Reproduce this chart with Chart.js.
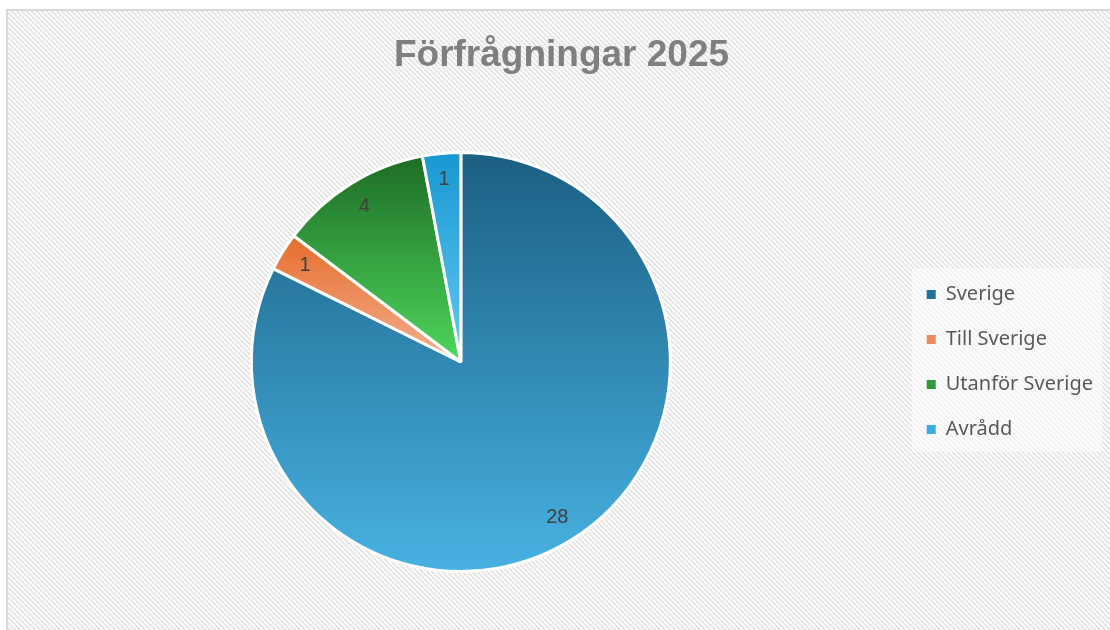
<!DOCTYPE html>
<html>
<head>
<meta charset="utf-8">
<script src="https://cdn.jsdelivr.net/npm/chart.js@4.4.1/dist/chart.umd.min.js"></script>
<style>
  html, body { margin: 0; padding: 0; background: #ffffff; }
  #wrap { width: 1110px; height: 630px; position: relative; }
  canvas { display: block; }
</style>
</head>
<body>
<div id="wrap"><canvas id="c" width="1110" height="630"></canvas></div>
<script>
// ---- data ----
const chartTitle = 'Förfrågningar 2025';
const categories = ['Sverige', 'Till Sverige', 'Utanför Sverige', 'Avrådd'];
const values = [28, 1, 4, 1];
const gradientTops = ['#1b5f82', '#e66c2c', '#1d6b25', '#1797d1'];
const gradientBottoms = ['#48b2e3', '#f4b08f', '#4ed75c', '#62c9f2'];
const legendColors = ['#22729c', '#ec8a5c', '#2f9a3a', '#3aaee2'];

// ---- hatch pattern ----
function makePattern() {
  const t = document.createElement('canvas');
  t.width = 5; t.height = 5;
  const g = t.getContext('2d');
  const img = g.createImageData(5, 5);
  for (let y = 0; y < 5; y++) {
    for (let x = 0; x < 5; x++) {
      const k = ((x - y) % 5 + 5) % 5;
      const v = (k === 0 || k === 1) ? 226 : 250;
      const i = (y * 5 + x) * 4;
      img.data[i] = v; img.data[i + 1] = v; img.data[i + 2] = v; img.data[i + 3] = 255;
    }
  }
  g.putImageData(img, 0, 0);
  return t;
}
const patternTile = makePattern();

const backgroundPlugin = {
  id: 'bgHatch',
  beforeDraw(chart) {
    const ctx = chart.ctx;
    ctx.save();
    ctx.fillStyle = '#ffffff';
    ctx.fillRect(0, 0, chart.width, chart.height);
    ctx.fillStyle = ctx.createPattern(patternTile, 'repeat');
    ctx.fillRect(8, 11, chart.width - 8, chart.height - 11);
    ctx.strokeStyle = '#d9d9d9';
    ctx.lineWidth = 2;
    ctx.beginPath();
    ctx.moveTo(7, chart.height + 5);
    ctx.lineTo(7, 10);
    ctx.lineTo(chart.width + 5, 10);
    ctx.stroke();
    // lighter legend backdrop
    ctx.fillStyle = 'rgba(255,255,255,0.5)';
    ctx.fillRect(912, 268, 190, 184);
    ctx.restore();
  }
};

function sectorYRange(chart, index) {
  const area = chart.chartArea;
  const cy = (area.top + area.bottom) / 2;
  const r = Math.min(area.width, area.height) / 2;
  const total = values.reduce((a, b) => a + b, 0);
  let start = 0;
  for (let i = 0; i < index; i++) start += values[i];
  const a0 = -Math.PI / 2 + start / total * 2 * Math.PI;
  const a1 = a0 + values[index] / total * 2 * Math.PI;
  let ys = [cy, cy + r * Math.sin(a0), cy + r * Math.sin(a1)];
  for (let k = -2; k <= 4; k++) {
    const a = Math.PI / 2 + k * Math.PI;
    if (a > a0 && a < a1) ys.push(cy + r * Math.sin(a));
  }
  return [Math.min(...ys), Math.max(...ys)];
}

const labelPlugin = {
  id: 'sliceLabels',
  afterDatasetsDraw(chart) {
    const ctx = chart.ctx;
    const meta = chart.getDatasetMeta(0);
    ctx.save();
    ctx.font = '20px "Liberation Sans", Arial, sans-serif';
    ctx.fillStyle = '#404040';
    ctx.textAlign = 'center';
    ctx.textBaseline = 'middle';
    meta.data.forEach((arc, i) => {
      const p = arc.getProps(['x', 'y', 'startAngle', 'endAngle', 'outerRadius'], true);
      const mid = (p.startAngle + p.endAngle) / 2;
      const d = p.outerRadius * 0.875;
      ctx.fillText(String(values[i]), p.x + Math.cos(mid) * d, p.y + Math.sin(mid) * d);
    });
    ctx.restore();
  }
};

new Chart(document.getElementById('c'), {
  type: 'pie',
  data: {
    labels: categories,
    datasets: [{
      data: values,
      backgroundColor(context) {
        const chart = context.chart;
        const i = context.dataIndex;
        if (!chart.chartArea || i === undefined) return gradientTops[i || 0];
        const [y0, y1] = sectorYRange(chart, i);
        const g = chart.ctx.createLinearGradient(0, y0, 0, y1);
        g.addColorStop(0, gradientTops[i]);
        g.addColorStop(1, gradientBottoms[i]);
        return g;
      },
      borderColor: '#ffffff',
      borderWidth: 3,
      hoverOffset: 0
    }]
  },
  options: {
    responsive: false,
    animation: false,
    devicePixelRatio: 1,
    layout: { padding: { top: 0, bottom: 57, left: 20, right: 7 } },
    plugins: {
      title: {
        display: true,
        text: chartTitle,
        color: '#7f7f7f',
        font: { family: '"Liberation Sans", Arial, sans-serif', size: 37, weight: 'bold', lineHeight: 1.2 },
        padding: { top: 34, bottom: 72.6 }
      },
      legend: {
        display: true,
        position: 'right',
        fullSize: false,
        labels: {
          color: '#595959',
          font: { family: '"Noto Sans", sans-serif', size: 20 },
          boxWidth: 9,
          boxHeight: 9,
          padding: 25,
          generateLabels(chart) {
            return categories.map((c, i) => ({
              text: c,
              fillStyle: legendColors[i],
              strokeStyle: legendColors[i],
              lineWidth: 0,
              fontColor: '#595959',
              hidden: false,
              index: i
            }));
          }
        }
      },
      tooltip: { enabled: false }
    }
  },
  plugins: [backgroundPlugin, labelPlugin]
});
</script>
</body>
</html>
